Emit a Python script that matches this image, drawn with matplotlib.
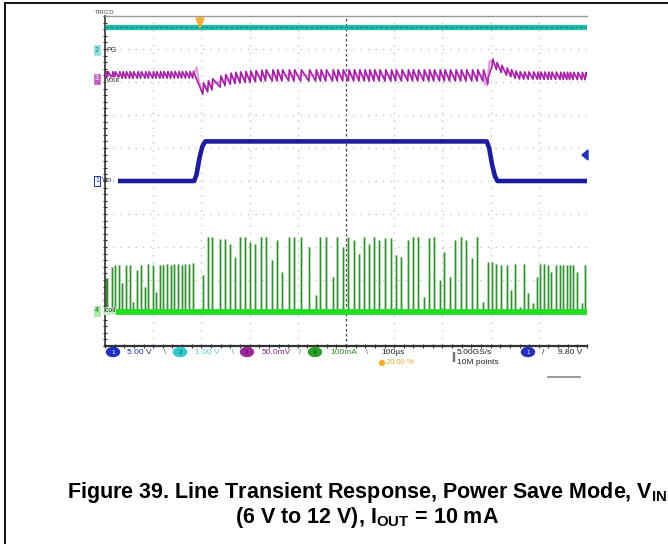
import numpy as np
import matplotlib
matplotlib.use('Agg')
import matplotlib.pyplot as plt
from matplotlib.patches import Ellipse, Polygon

plt.rcParams['font.family'] = ['Liberation Sans', 'DejaVu Sans']
plt.rcParams['mathtext.fontset'] = 'custom'
plt.rcParams['mathtext.rm'] = 'Liberation Sans:bold'
plt.rcParams['mathtext.it'] = 'Liberation Sans:bold'
plt.rcParams['mathtext.bf'] = 'Liberation Sans:bold'

# ---------------- data (time and amplitude in screen divisions) ----------------
vin_t = [0.27, 1.85, 1.90, 1.96, 2.02, 2.08, 7.92, 7.97, 8.03, 8.09, 8.14, 10.0]
vin_v = [5.0, 5.0, 5.2, 5.7, 6.05, 6.2, 6.2, 6.0, 5.5, 5.15, 5.0, 5.0]

vout_env_t = [0.0, 1.84, 1.90, 1.95, 2.00, 2.10, 2.30, 2.65, 3.30, 7.84, 7.88, 7.93, 7.98, 8.10, 8.30, 8.55, 10.0]
vout_env_v = [8.21, 8.22, 8.45, 8.00, 7.78, 7.85, 7.98, 8.12, 8.20, 8.20, 7.95, 7.90, 8.65, 8.50, 8.33, 8.20, 8.18]
vout_ripple_edges = [0.0, 1.87, 7.90, 10.0]
vout_ripple_pp = [0.20, 0.34, 0.22]

pg_level = 9.67

pre_t = [0.02, 0.05, 0.15, 0.20, 0.29, 0.36, 0.43, 0.51, 0.58, 0.67, 0.74, 0.83, 0.90,
         0.99, 1.06, 1.14, 1.21, 1.29, 1.36, 1.44, 1.52, 1.59, 1.67, 1.75, 1.82]
pre_h = [2.05, 2.05, 2.40, 2.45, 2.45, 1.90, 2.45, 2.45, 1.34, 2.30, 2.45, 1.80, 2.50,
         2.45, 1.65, 2.45, 2.45, 2.50, 2.45, 2.50, 2.50, 2.45, 2.50, 2.50, 2.53]
hi_t = [2.03, 2.13, 2.22, 2.39, 2.49, 2.60, 2.70, 2.80, 2.91, 3.01, 3.12, 3.24, 3.33, 3.47,
        3.57, 3.67, 3.81, 3.92, 4.06, 4.23, 4.37, 4.47, 4.58, 4.72, 4.82, 4.93, 5.05, 5.16,
        5.27, 5.38, 5.48, 5.58, 5.69, 5.81, 5.93, 6.03, 6.15, 6.28, 6.38, 6.49, 6.61, 6.72,
        6.82, 6.94, 7.04, 7.15, 7.27, 7.38, 7.49, 7.61, 7.72, 7.84]
hi_h = [2.15, 3.31, 3.31, 3.25, 3.25, 3.10, 2.70, 3.31, 3.31, 3.15, 3.10, 3.31, 3.31, 2.60,
        3.20, 2.25, 3.31, 3.31, 3.31, 3.00, 1.55, 3.31, 3.31, 2.10, 3.31, 3.00, 3.31, 3.20,
        2.80, 3.31, 3.10, 3.31, 3.20, 3.26, 3.26, 2.76, 2.70, 3.20, 3.31, 3.31, 1.50, 3.26,
        3.31, 2.00, 2.86, 2.10, 3.21, 3.31, 3.21, 2.66, 3.31, 1.34]
post_t = [7.94, 8.03, 8.12, 8.22, 8.33, 8.42, 8.51, 8.60, 8.69, 8.78, 8.88, 8.97, 9.03,
          9.11, 9.19, 9.26, 9.35, 9.44, 9.51, 9.58, 9.64, 9.71, 9.80, 9.89, 9.96]
post_h = [2.55, 2.55, 2.50, 2.45, 2.45, 1.70, 2.50, 1.19, 2.50, 1.60, 1.30, 2.10, 2.50,
          2.50, 2.45, 2.25, 2.45, 2.45, 2.45, 2.45, 2.45, 2.45, 2.25, 1.30, 2.45]
il_base = 1.03

readouts = ["5.00 V", "1.00 V", "50.0mV", "100mA"]
timebase = "100µs"
trig_pos = "20.00 %"
sample_rate = "5.00GS/s"
record_len = "10M points"
trig_level = "9.80 V"
caption1 = "Figure 39. Line Transient Response, Power Save Mode, V$_{\\mathrm{IN}}$"
caption2 = "(6 V to 12 V), I$_{\\mathrm{OUT}}$ = 10 mA"

# ---------------- figure ----------------
W, H = 668, 544
fig = plt.figure(figsize=(W / 100, H / 100), dpi=100)
fig.patch.set_facecolor('white')

ax = fig.add_axes([105 / W, 1 - 346 / H, 482 / W, 330 / H])
ax.set_xlim(0, 10)
ax.set_ylim(0, 10)
ax.set_facecolor('white')
for i in range(1, 10):
    if i == 5:
        ax.axvline(i, color='#444444', lw=0.9, ls=(0, (2, 2)), zorder=1)
    else:
        ax.axvline(i, color='#bdbdbd', lw=0.9, ls=(0, (1, 5)), zorder=1)
    ax.axhline(i, color='#bdbdbd', lw=0.9, ls=(0, (1, 5)), zorder=1)
ax.spines['right'].set_visible(False)
ax.spines['top'].set_color('#9a9a9a')
ax.spines['top'].set_linewidth(1.0)
ax.spines['left'].set_color('#333333')
ax.spines['left'].set_linewidth(1.2)
ax.spines['bottom'].set_color('#333333')
ax.spines['bottom'].set_linewidth(1.6)
ax.set_xticks(np.arange(0, 10.01, 0.2))
ax.set_yticks(np.arange(0, 10.01, 0.2))
ax.tick_params(axis='both', direction='inout', length=3, width=0.8, color='#333333',
               labelbottom=False, labelleft=False)

# PG trace
ax.plot([0, 10], [pg_level, pg_level], color='#22b8aa', lw=3.8, zorder=3, solid_capstyle='butt')
ax.plot([0, 10], [pg_level, pg_level], color='#137a70', lw=0.6, ls=(0, (3, 3)), zorder=3)

# inductor current spikes
all_t = pre_t + hi_t + post_t
all_h = pre_h + hi_h + post_h
ax.vlines(all_t, il_base, all_h, color='#a8dca8', lw=2.0, zorder=2)
ax.vlines(all_t, il_base, all_h, color='#3a8a3a', lw=0.8, zorder=2)
ax.plot([0, 10], [il_base, il_base], color='#22dd22', lw=4.2, zorder=3, solid_capstyle='butt')

# Vout sawtooth from switching pulse times
pulses = np.array(all_t)
pts_t, pts_v = [], []
for tp in pulses:
    seg = np.searchsorted(vout_ripple_edges, tp) - 1
    seg = min(max(seg, 0), 2)
    a = vout_ripple_pp[seg] / 2
    base = np.interp(tp, vout_env_t, vout_env_v)
    pts_t += [tp, tp + 0.015]
    pts_v += [base - a, base + a]
pts_t = [0.0] + pts_t + [10.0]
pts_v = [vout_env_v[0]] + pts_v + [vout_env_v[-1]]
ax.plot(pts_t, pts_v, color='#a21fa2', lw=1.2, zorder=4)
ax.plot(vout_env_t, vout_env_v, color='#c040c0', lw=1.5, alpha=0.5, zorder=4)

# Vin trace
ax.plot(vin_t, vin_v, color='#1c1c9c', lw=3.3, zorder=5, solid_capstyle='butt')

# ---------------- overlay in pixel coordinates ----------------
ov = fig.add_axes([0, 0, 1, 1], zorder=10)
ov.set_xlim(0, W)
ov.set_ylim(H, 0)
ov.axis('off')
ov.patch.set_alpha(0)

# border
ov.plot([5, 5], [H, 3], color='black', lw=1.3)
ov.plot([5, W], [3, 3], color='black', lw=1.3)

ov.text(95, 12, "TRIG'D", fontsize=4.2, color='#444444', va='center', ha='left')
ov.add_patch(Polygon([[196, 18], [204, 18], [200, 28]], closed=True, color='#f0b030'))
ov.add_patch(Polygon([[588, 150], [588, 160], [582, 155]], closed=True, color='#2030c0'))

def chan_box(x, y, n, fc, tc):
    ov.text(x, y, n, fontsize=5, color=tc, ha='center', va='center',
            bbox=dict(boxstyle='square,pad=0.15', fc=fc, ec=fc, lw=0.5))

chan_box(97, 50, '2', '#8fe0e0', '#1a8080')
ov.text(106, 50, 'PG', fontsize=5, color='#333333', va='center')
chan_box(97, 79, '3', '#c060c0', '#ffffff')
ov.text(106, 81, 'Vout', fontsize=5, color='#333333', va='center',
        bbox=dict(boxstyle='square,pad=0.05', fc='white', ec='none', alpha=0.7))
ov.text(97, 181, '1', fontsize=5, color='#2030a0', ha='center', va='center',
        bbox=dict(boxstyle='square,pad=0.15', fc='white', ec='#2030a0', lw=0.7))
ov.text(102, 181, 'Vin', fontsize=5, color='#222222', va='center')
chan_box(97, 311, '4', '#a8e8a8', '#1a6a1a')
ov.text(103, 311, 'Icoil', fontsize=5, color='#222222', va='center',
        bbox=dict(boxstyle='square,pad=0.05', fc='#e8ffe8', ec='none', alpha=0.8))

# readouts
def chan_ell(x, y, n, fc, tc):
    ov.add_patch(Ellipse((x, y), 13, 9, color=fc))
    ov.text(x, y, n, fontsize=4.5, color=tc, ha='center', va='center')

chan_ell(113, 352, '1', '#2030c0', '#ffffff')
ov.text(127, 352, readouts[0], fontsize=6, color='#1a2a9a', va='center')
ov.text(164, 352, '\\', fontsize=5, color='#555555', va='center')
chan_ell(180, 352, '2', '#30c8c8', '#145050')
ov.text(195, 352, readouts[1], fontsize=6, color='#60d0d0', va='center')
ov.text(232, 352, '\\', fontsize=5, color='#30a0a0', va='center')
chan_ell(247, 352, '3', '#9a2a9a', '#401040')
ov.text(262, 352, readouts[2], fontsize=6, color='#8a1f8a', va='center')
ov.text(299, 352, '/', fontsize=5, color='#9a2a9a', va='center')
chan_ell(315, 352, '4', '#2aa02a', '#0a400a')
ov.text(330, 352, readouts[3], fontsize=6, color='#2a8a2a', va='center')
ov.text(366, 352, '\\', fontsize=5, color='#555555', va='center')
ov.text(381, 352, timebase, fontsize=6, color='#222222', va='center')
ov.add_patch(Ellipse((382, 363), 5, 5, color='#f0b030'))
ov.text(386, 363, trig_pos, fontsize=5.5, color='#e0a830', va='center')
ov.text(451, 357, '||', fontsize=7, color='#222222', va='center')
ov.text(457, 352, sample_rate, fontsize=6, color='#222222', va='center')
ov.text(457, 363, record_len, fontsize=6, color='#222222', va='center')
chan_ell(528, 352, '1', '#2030c0', '#ffffff')
ov.text(542, 352, '/', fontsize=6, color='#222222', va='center')
ov.text(558, 352, trig_level, fontsize=6, color='#222222', va='center')
ov.plot([548, 580], [377, 377], color='#555555', lw=1.2, alpha=0.7)

# caption
ov.text(367.5, 498, caption1, fontsize=15.5, fontweight='bold', ha='center', va='baseline', color='black')
ov.text(367.5, 523, caption2, fontsize=15.5, fontweight='bold', ha='center', va='baseline', color='black')

fig.savefig('out.png', dpi=100, facecolor='white')
